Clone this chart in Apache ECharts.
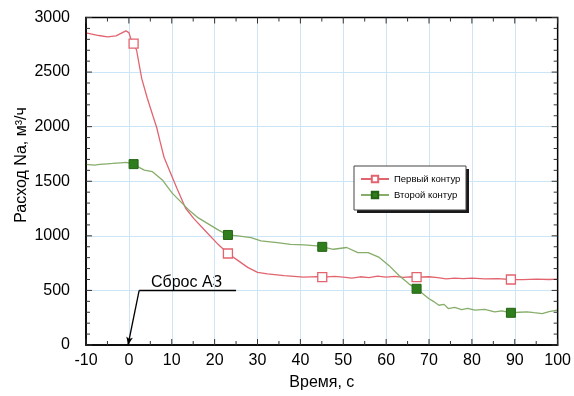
<!DOCTYPE html>
<html>
<head>
<meta charset="utf-8">
<script src="https://cdn.jsdelivr.net/npm/echarts@6/dist/echarts.min.js"></script>
<style>
  html, body { margin: 0; padding: 0; background: #fff; }
  #chart { width: 574px; height: 396px; }
</style>
</head>
<body>
<div id="chart"></div>
<script>
// Sodium flow rate after reactor scram, two circuits
const timeFirst = [-10, -7, -5, -3, -1.5, -0.7, 0, 0.5, 1.1, 1.8, 3, 4.3, 5.6, 6.5, 7.3, 8.2, 9.3, 11.2, 13.2, 15.1, 17.8, 20.8, 23.1, 25.4, 27.7, 30, 32.3, 36.2, 40.8, 43.9, 45.1, 48, 50, 52, 54, 56, 58, 60, 62, 64, 66, 67.1, 70, 72, 74, 76, 78, 80, 83, 86, 89.1, 92, 95, 98, 100];
const flowFirst = [2860, 2835, 2822, 2832, 2862, 2878, 2862, 2800, 2760, 2700, 2440, 2260, 2100, 1990, 1860, 1720, 1615, 1436, 1255, 1160, 1047, 922, 838, 775, 711, 666, 651, 636, 621, 627, 621, 628, 622, 612, 625, 618, 630, 622, 628, 620, 625, 621, 625, 618, 605, 612, 608, 612, 605, 608, 600, 598, 604, 600, 603];

const timeSecond = [-10, -8, -6.8, -5, -3.8, -2, -0.6, 1.1, 2.5, 3.6, 5.5, 7.8, 10.1, 12, 13.9, 16.2, 18.5, 21, 23.1, 25.4, 28.5, 30.8, 34.6, 37.7, 40.8, 43.9, 45.1, 47.7, 50.8, 53.4, 55.8, 58.4, 60.7, 63, 65.3, 67.1, 70, 71, 72.3, 73.5, 74.5, 76, 77.6, 79, 80.7, 83, 85.3, 87, 89.1, 91, 92.9, 94.5, 96.4, 98, 99.9];
const flowSecond = [1654, 1648, 1654, 1660, 1663, 1668, 1672, 1657, 1625, 1602, 1588, 1512, 1391, 1316, 1240, 1164, 1110, 1050, 1008, 999, 983, 953, 938, 922, 917, 908, 899, 877, 893, 847, 847, 802, 727, 636, 560, 515, 424, 400, 364, 372, 334, 345, 324, 335, 319, 326, 304, 312, 295, 300, 304, 296, 288, 305, 319];

// times at which the curves carry a marker
const markerTimes = [1.1, 23.1, 45.1, 67.1, 89.1];

const xTicks = { min: -10, max: 100, step: 10, minorStep: 5 };
const yTicks = { min: 0, max: 3000, step: 500, minorStep: 100 };

const seriesNames = ['Первый контур', 'Второй контур'];
const xTitle = 'Время, с';
const yTitle = 'Расход Na, м³/ч';
const noteText = 'Сброс АЗ';

function buildData(times, flows) {
  return times.map((t, i) => ({
    value: [t, flows[i]],
    symbol: markerTimes.includes(t) ? 'rect' : 'none'
  }));
}

// tick marks on all four sides of the plot box: [x, y, kind, isMajor]
// kind 0 = time tick, 1 = flow tick, 2 = box outline
function buildFrameItems() {
  const items = [[xTicks.min, yTicks.min, 2, 0]];
  for (let v = xTicks.min; v <= xTicks.max; v += xTicks.minorStep) {
    items.push([v, yTicks.min, 0, v % xTicks.step === 0 ? 1 : 0]);
  }
  for (let v = yTicks.min; v <= yTicks.max; v += yTicks.minorStep) {
    items.push([xTicks.min, v, 1, v % yTicks.step === 0 ? 1 : 0]);
  }
  return items;
}

function renderFrame(params, api) {
  const kind = api.value(2);
  const len = api.value(3) ? 6 : 4;
  const tickStyle = { stroke: '#333', lineWidth: 1 };
  if (kind === 2) {
    const tl = api.coord([xTicks.min, yTicks.max]);
    const br = api.coord([xTicks.max, yTicks.min]);
    return {
      type: 'rect',
      shape: { x: tl[0], y: tl[1], width: br[0] - tl[0], height: br[1] - tl[1] },
      style: { fill: null, stroke: '#000', lineWidth: 1.5 }
    };
  }
  if (kind === 0) {
    const v = api.value(0);
    const b = api.coord([v, yTicks.min]);
    const t = api.coord([v, yTicks.max]);
    return {
      type: 'group', children: [
        { type: 'line', shape: { x1: b[0], y1: b[1], x2: b[0], y2: b[1] - len }, style: tickStyle },
        { type: 'line', shape: { x1: t[0], y1: t[1], x2: t[0], y2: t[1] + len }, style: tickStyle }
      ]
    };
  }
  const v = api.value(1);
  const l = api.coord([xTicks.min, v]);
  const r = api.coord([xTicks.max, v]);
  return {
    type: 'group', children: [
      { type: 'line', shape: { x1: l[0], y1: l[1], x2: l[0] + len, y2: l[1] }, style: tickStyle },
      { type: 'line', shape: { x1: r[0], y1: r[1], x2: r[0] - len, y2: r[1] }, style: tickStyle }
    ]
  };
}

const FONT = '"Liberation Sans", Arial, sans-serif';
const gridColor = '#cde6f7';

const chart = echarts.init(document.getElementById('chart'), null, { renderer: 'canvas' });

chart.setOption({
  animation: false,
  backgroundColor: '#fff',
  textStyle: { fontFamily: FONT },
  grid: { left: 86, right: 10, top: 17.5, bottom: 47.5 },
  xAxis: {
    type: 'value', position: 'bottom',
    min: xTicks.min, max: xTicks.max, interval: xTicks.step,
    axisLine: { show: true, onZero: false, lineStyle: { color: '#000', width: 1.5 } },
    axisTick: { show: false },
    splitLine: { show: true, lineStyle: { color: gridColor, width: 1 } },
    axisLabel: { fontSize: 16, color: '#000', margin: 8, fontFamily: FONT },
    name: xTitle, nameLocation: 'middle', nameGap: 30,
    nameTextStyle: { fontSize: 16, color: '#000', fontFamily: FONT }
  },
  yAxis: {
    type: 'value', position: 'left',
    min: yTicks.min, max: yTicks.max, interval: yTicks.step,
    axisLine: { show: true, onZero: false, lineStyle: { color: '#000', width: 1.5 } },
    axisTick: { show: false },
    splitLine: { show: true, lineStyle: { color: gridColor, width: 1 } },
    axisLabel: { fontSize: 16, color: '#000', margin: 16, fontFamily: FONT, formatter: v => String(v) }
  },
  legend: {
    data: seriesNames,
    orient: 'vertical',
    left: 354, top: 166,
    padding: [8, 8, 8, 6],
    itemWidth: 28, itemHeight: 8, itemGap: 6,
    backgroundColor: 'transparent',
    borderWidth: 0,
    textStyle: { fontSize: 9.5, color: '#000', fontFamily: FONT },
    z: 10
  },
  series: [
    {
      name: 'frame', type: 'custom', silent: true, z: 4,
      renderItem: renderFrame,
      data: buildFrameItems()
    },
    {
      name: seriesNames[0], type: 'line',
      data: buildData(timeFirst, flowFirst),
      symbol: 'rect', symbolSize: 9, showAllSymbol: true,
      lineStyle: { color: '#e2646f', width: 1.3 },
      itemStyle: { color: '#fff', borderColor: '#e2646f', borderWidth: 1.3 }
    },
    {
      name: seriesNames[1], type: 'line',
      data: buildData(timeSecond, flowSecond),
      symbol: 'rect', symbolSize: 9, showAllSymbol: true,
      lineStyle: { color: '#86ad6a', width: 1.3 },
      itemStyle: { color: '#2f7d1c', borderColor: '#236315', borderWidth: 1 }
    },
    {
      // scram annotation leader with arrow to t = 0
      name: 'note', type: 'line', data: [], silent: true,
      markLine: {
        silent: true,
        label: { show: false },
        lineStyle: { color: '#000', width: 1.3, type: 'solid' },
        data: [
          [{ coord: [2.4, 500], symbol: 'none' }, { coord: [25, 500], symbol: 'none' }],
          [{ coord: [2.4, 500], symbol: 'none' }, { coord: [-0.2, 0], symbol: 'arrow', symbolSize: [5, 8] }]
        ]
      }
    }
  ],
  graphic: [
    // legend frame with a hard drop shadow
    {
      type: 'rect', z: 8, silent: true,
      shape: { x: 357, y: 169, width: 112, height: 44 },
      style: { fill: '#1a1a1a' }
    },
    {
      type: 'rect', z: 9, silent: true,
      shape: { x: 354, y: 166, width: 112, height: 44 },
      style: { fill: '#fff', stroke: '#444', lineWidth: 1 }
    },
    {
      type: 'text', left: 151, top: 275,
      style: { text: noteText, font: '16px ' + FONT, fill: '#000' }
    },
    {
      type: 'text', x: 22, y: 165, rotation: Math.PI / 2,
      style: { text: yTitle, font: '16px ' + FONT, fill: '#000', align: 'center', verticalAlign: 'middle' }
    }
  ]
});
</script>
</body>
</html>
